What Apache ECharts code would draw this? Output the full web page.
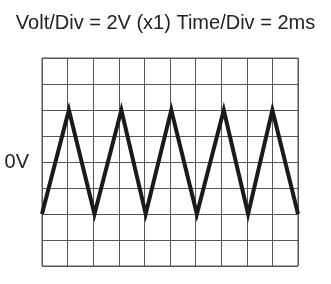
<!DOCTYPE html>
<html>
<head>
<meta charset="utf-8">
<script src="https://cdn.jsdelivr.net/npm/echarts@6/dist/echarts.min.js"></script>
<style>
html,body{margin:0;padding:0;background:#fff;}
#c{width:331px;height:284px;}
</style>
</head>
<body>
<div id="c"></div>
<script>
var titleText = "Volt/Div = 2V (x1) Time/Div = 2ms";
var zeroLabel = "0V";
// time in ms (2 ms/div), voltage in V (2 V/div)
var timeMs = [0, 2.1, 4.1, 6.2, 8.1, 10.1, 12.1, 14.2, 16.1, 18.0, 20.0];
var volts  = [-4, 4, -4, 4, -4, 4, -4, 4, -4, 4, -4];

var data = timeMs.map(function (t, i) { return [t, volts[i]]; });

var chart = echarts.init(document.getElementById('c'), null, {renderer: 'canvas'});
chart.setOption({
  animation: false,
  backgroundColor: '#fff',
  title: {
    text: titleText,
    left: 'center',
    top: 8,
    textStyle: {fontFamily: 'Liberation Sans', fontSize: 20, fontWeight: 'normal', color: '#222'}
  },
  grid: {
    left: 42, top: 58, width: 256, height: 208,
    show: true, borderColor: '#555', borderWidth: 1
  },
  xAxis: {
    type: 'value', min: 0, max: 20, interval: 2,
    axisLine: {show: false}, axisTick: {show: false}, axisLabel: {show: false},
    splitLine: {show: true, lineStyle: {color: '#555', width: 1}}
  },
  yAxis: {
    type: 'value', min: -8, max: 8, interval: 2,
    axisLine: {show: false}, axisTick: {show: false},
    axisLabel: {
      show: true, margin: 13,
      fontFamily: 'Liberation Sans', fontSize: 20, color: '#222',
      formatter: function (v) { return v === 0 ? zeroLabel : ''; }
    },
    splitLine: {show: true, lineStyle: {color: '#555', width: 1}}
  },
  series: [{
    type: 'line',
    data: data,
    symbol: 'none',
    lineStyle: {color: '#1a1a1a', width: 4, join: 'miter', miterLimit: 10},
    clip: false
  }]
});
</script>
</body>
</html>
